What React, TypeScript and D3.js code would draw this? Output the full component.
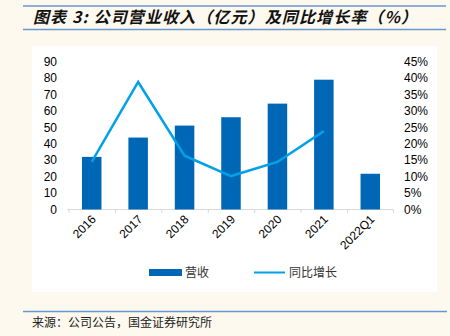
import React from "react";
import * as d3 from "d3";

const categories = ["2016", "2017", "2018", "2019", "2020", "2021", "2022Q1"];
const revenue = [32.1, 43.9, 51.2, 56.3, 64.6, 79.2, 21.8];
const growth = [14.5, 38.9, 16.4, 10.2, 14.5, 23.9];
const leftTicks = [0, 10, 20, 30, 40, 50, 60, 70, 80, 90];
const rightTicks = [0, 5, 10, 15, 20, 25, 30, 35, 40, 45];

const W = 450, H = 336;
const BG = "#fdf9ef";
const BAR = "#0067b6";
const LINE = "#00a1e9";
const RULE = "#6b97cf";

export default function App() {
  const x = d3.scaleBand<string>().domain(categories).range([68.5, 393.5]).paddingInner(0.58).paddingOuter(0.29);
  const band = d3.scaleBand<string>().domain(categories).range([68.5, 393.5]);
  const yL = d3.scaleLinear().domain([0, 90]).range([209.5, 62]);
  const yR = d3.scaleLinear().domain([0, 45]).range([209.5, 62]);
  const line = d3.line<number>()
    .x((_, i) => (band(categories[i]) as number) + band.bandwidth() / 2)
    .y((d) => yR(d));
  const font = "'Liberation Sans', Arial, sans-serif";
  const cjk = "'Noto Sans CJK SC', sans-serif";
  return (
    <svg width={W} height={H} style={{ position: "absolute", left: 0, top: 0 }}>
      <rect x={0} y={0} width={W} height={H} fill={BG} />
      <line x1={23} x2={446} y1={6} y2={6} stroke={RULE} strokeWidth={1.5} />
      <line x1={23} x2={446} y1={29.5} y2={29.5} stroke={RULE} strokeWidth={1.5} />
      <text x={33} y={23} fontFamily={cjk} fontSize={16} fontWeight="bold" fontStyle="italic" fill="#111" textLength={384} lengthAdjust="spacing">
        图表 3: 公司营业收入（亿元）及同比增长率（%）
      </text>
      <rect x={32} y={46} width={405} height={246} fill="#fff" />
      <line x1={67} x2={393.5} y1={209.5} y2={209.5} stroke="#d9d9d9" strokeWidth={1} />
      {categories.map((c, i) => {
        const bx = (band(c) as number);
        return <line key={"t" + i} x1={bx + 0.5} x2={bx + 0.5} y1={209.5} y2={213} stroke="#d9d9d9" />;
      })}
      <line x1={393.5} x2={393.5} y1={209.5} y2={213} stroke="#d9d9d9" />
      {categories.map((c, i) => (
        <rect key={c} x={x(c)} y={yL(revenue[i])} width={x.bandwidth()} height={yL(0) - yL(revenue[i])} fill={BAR} />
      ))}
      <path d={line(growth) || ""} fill="none" stroke={LINE} strokeWidth={2.5} strokeLinejoin="miter" />
      {leftTicks.map((t) => (
        <text key={"l" + t} x={57} y={yL(t) + 4} textAnchor="end" fontFamily={font} fontSize={12} fill="#000">{t}</text>
      ))}
      {rightTicks.map((t) => (
        <text key={"r" + t} x={404} y={yR(t) + 4} textAnchor="start" fontFamily={font} fontSize={12} fill="#000">{t}%</text>
      ))}
      {categories.map((c) => {
        const cx = (band(c) as number) + band.bandwidth() / 2 + 5;
        const cy = 220;
        return (
          <text key={"x" + c} x={cx} y={cy} textAnchor="end" fontFamily={font} fontSize={12} fill="#000" transform={`rotate(-45 ${cx} ${cy})`}>{c}</text>
        );
      })}
      <rect x={149} y={269} width={33} height={7} fill={BAR} />
      <text x={185} y={277} fontFamily={cjk} fontSize={12} fill="#333">营收</text>
      <line x1={254} x2={285} y1={272.5} y2={272.5} stroke={LINE} strokeWidth={2} />
      <text x={289} y={277} fontFamily={cjk} fontSize={12} fill="#333">同比增长</text>
      <line x1={23} x2={447} y1={311.5} y2={311.5} stroke={RULE} strokeWidth={1.5} />
      <text x={32} y={327} fontFamily={cjk} fontSize={12} fill="#222">来源：公司公告，国金证券研究所</text>
    </svg>
  );
}
